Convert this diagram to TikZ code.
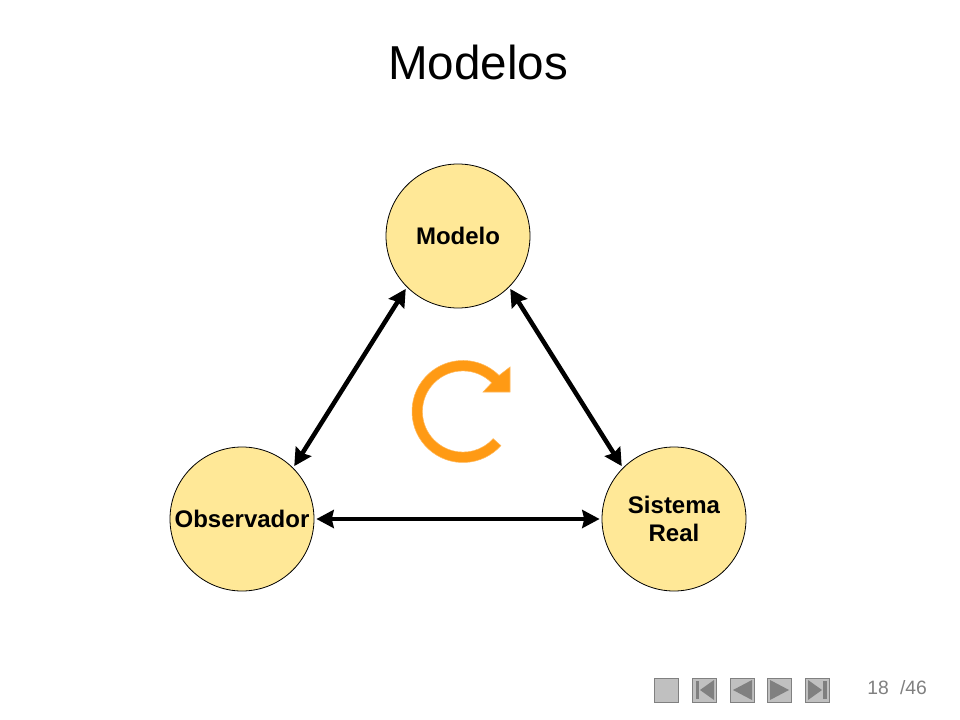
\documentclass[tikz,border=0pt]{standalone}
\usepackage{fontspec}
\setmainfont{Liberation Sans}
\usetikzlibrary{arrows.meta}
\definecolor{circfill}{HTML}{FFE897}
\definecolor{loopc}{HTML}{FF9A14}
\definecolor{navfill}{HTML}{C0C0C0}
\definecolor{navdark}{HTML}{808080}
\tikzset{
  x=0.75pt,y=0.75pt,
  actor/.style={circle,draw=black,line width=0.6pt,fill=circfill,minimum size=108pt,inner sep=0pt,
    font=\fontsize{18}{21}\selectfont\bfseries,align=center},
  link/.style={line width=3.4pt,shorten <=1.5pt,shorten >=1.5pt,{Stealth[length=13pt,width=13.5pt,inset=1.5pt]}-{Stealth[length=13pt,width=13.5pt,inset=1.5pt]}},
  navbtn/.style={draw=navdark,line width=0.75pt,fill=navfill,minimum size=18pt,inner sep=0pt},
  navicon/.style={fill=navdark,draw=none},
  pagetxt/.style={text=navdark,font=\fontsize{14.5}{17}\selectfont,inner sep=0pt}
}
\begin{document}
\begin{tikzpicture}
\useasboundingbox (0,0) rectangle (960,-720);
\node[font=\fontsize{35.7}{42}\selectfont,inner sep=0pt] (title) at (478,-62) {Modelos};
\node[actor] (m) at (458,-236) {Modelo};
\node[actor] (o) at (242,-519) {Observador};
\node[actor] (s) at (674,-519) {Sistema\\Real};
\draw[link] (m.225) -- (o.45);
\draw[link] (m.315) -- (s.135);
\draw[link] (o.east) -- (s.west);
\fill[loopc,draw=loopc!70!white,line width=0.4pt]
  (463,-411.5) ++(-42:51) arc[start angle=-42,end angle=-315,radius=51]
  -- (510,-367) -- (510,-392) -- (483,-392)
  -- (491.7,-382.8) arc[start angle=45,end angle=318,radius=40.6] -- cycle;
\node[navbtn] (b1) at (666.5,-690) {};
\node[navbtn] (b2) at (704.5,-690) {};
\node[navbtn] (b3) at (742.5,-690) {};
\node[navbtn] (b4) at (779.5,-690) {};
\node[navbtn] (b5) at (817.5,-690) {};
\fill[navicon] (695.5,-681) rectangle (699,-699);
\fill[navicon] (714,-680) -- (714,-700) -- (700,-690) -- cycle;
\fill[navicon] (752,-680) -- (752,-700) -- (733,-690) -- cycle;
\fill[navicon] (770,-680) -- (770,-700) -- (789,-690) -- cycle;
\fill[navicon] (808,-680) -- (808,-700) -- (822,-690) -- cycle;
\fill[navicon] (823,-681) rectangle (826.5,-699);
\node[pagetxt] (pg) at (878,-688) {18};
\node[pagetxt] (tot) at (913.5,-688) {/46};
\end{tikzpicture}
\end{document}
